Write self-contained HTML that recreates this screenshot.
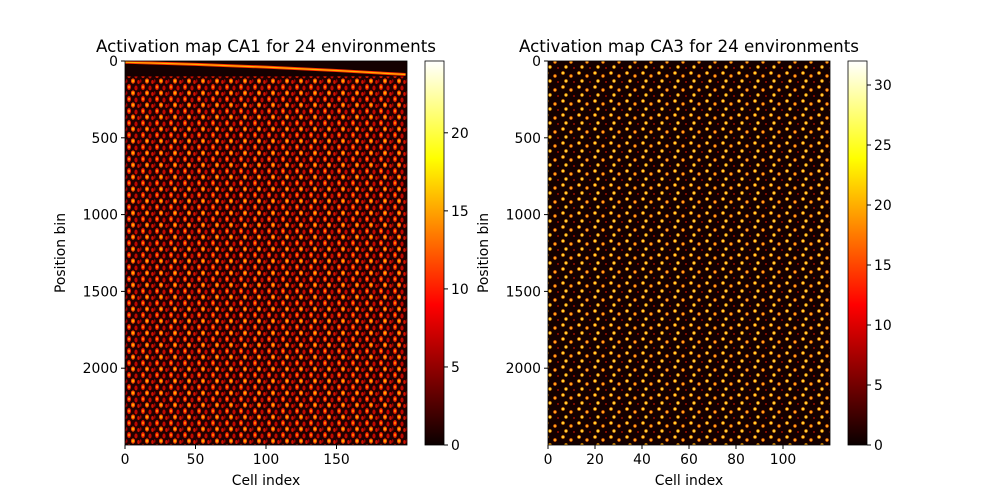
<!DOCTYPE html>
<html><head><meta charset="utf-8"><style>
body{margin:0;background:#fff;}
svg{display:block;font-family:"DejaVu Sans","Liberation Sans",sans-serif;}
</style></head><body>
<svg id="c" width="1000" height="500" viewBox="0 0 1000 500">
<defs>
<linearGradient id="hot" x1="0" y1="1" x2="0" y2="0">
<stop offset="0" stop-color="#0a0000"/><stop offset="0.365" stop-color="#ff0000"/><stop offset="0.746" stop-color="#ffff00"/><stop offset="1" stop-color="#ffffff"/>
</linearGradient>
<pattern id="p1" width="14" height="12" patternUnits="userSpaceOnUse">
<rect width="14" height="12" fill="#220000"/>
<ellipse cx="3" cy="3" rx="2" ry="3" fill="#e81800"/>
<ellipse cx="3" cy="3" rx="1" ry="1.5" fill="#ff8000"/>
<ellipse cx="10" cy="4" rx="1.6" ry="2.5" fill="#c00800"/>
<ellipse cx="7" cy="9" rx="2" ry="2.6" fill="#ff5000"/>
<ellipse cx="7" cy="9" rx="1" ry="1.2" fill="#ffb000"/>
<ellipse cx="12.5" cy="10" rx="1.3" ry="2" fill="#d01000"/>
<ellipse cx="0.5" cy="9" rx="1" ry="1.8" fill="#a00000"/>
</pattern>
<pattern id="p3" width="16" height="14" patternUnits="userSpaceOnUse">
<rect width="16" height="14" fill="#140000"/>
<circle cx="3" cy="3" r="1.8" fill="#ff9000"/>
<circle cx="3" cy="3" r="0.9" fill="#ffff60"/>
<circle cx="11" cy="6" r="1.7" fill="#ff7000"/>
<circle cx="11" cy="6" r="0.8" fill="#ffe040"/>
<circle cx="6" cy="11" r="1.7" fill="#ffa000"/>
<circle cx="6" cy="11" r="0.8" fill="#ffff80"/>
<circle cx="14" cy="12" r="1" fill="#a01000"/>
</pattern>
</defs>
</svg>
<script>
const NS="http://www.w3.org/2000/svg";
const svg=document.getElementById('c');
const ca1XTicks=[0,50,100,150];
const ca3XTicks=[0,20,40,60,80,100];
const yTicks=[0,500,1000,1500,2000];
const ca1CbTicks=[0,5,10,15,20];
const ca3CbTicks=[0,5,10,15,20,25,30];
const ca1Cells=200, ca3Cells=120, nBins=2500;
const ca1CbMax=24.6, ca3CbMax=32;
const ca1QuietBins=100;
const ridgeCells=[0,50,100,150,199];
const ridgeBins=[8,22,40,62,88];
function el(tag,attrs,parent){const e=document.createElementNS(NS,tag);for(const k in attrs)e.setAttribute(k,attrs[k]);(parent||svg).appendChild(e);return e;}
function txt(x,y,s,anchor,size,name){const t=el('text',{x:x,y:y,'text-anchor':anchor,'font-size':size,fill:'#000'});t.textContent=s;

return t;}
function panel(o){
 const L=o.x0,R=o.x1,T=61,B=445;
 const sx=v=>L+v/o.cells*(R-L), sy=v=>T+v/nBins*(B-T);
 const g=el('g',{});
 
 
 el('rect',{x:L,y:T,width:R-L,height:B-T,fill:'url(#'+o.pat+')'},g);
 if(o.quiet){el('rect',{x:L,y:T,width:R-L,height:sy(o.quiet)-T,fill:'#140000'},g);
  let d='';ridgeCells.forEach((c,i)=>{d+=(i?'L':'M')+sx(c)+','+sy(ridgeBins[i]);});
  const r1=el('path',{d:d,stroke:'#ff3000','stroke-width':3,fill:'none'},g);
  
  
  el('path',{d:d,stroke:'#ffb000','stroke-width':1.2,fill:'none'},g);}
 el('rect',{x:L,y:T,width:R-L,height:B-T,fill:'none',stroke:'#000','stroke-width':0.8},g);
 o.xt.forEach(v=>{el('line',{x1:sx(v),x2:sx(v),y1:B,y2:B+4,stroke:'#000'});txt(sx(v),B+19,String(v),'middle',13.9,o.name+'-x-tick');});
 yTicks.forEach(v=>{el('line',{x1:L-4,x2:L,y1:sy(v),y2:sy(v),stroke:'#000'});txt(L-7,sy(v)+5,String(v),'end',13.9,o.name+'-y-tick');});
 txt((L+R)/2,485,'Cell index','middle',13.9,o.name+'-x-axis-title');
 const yl=txt(0,0,'Position bin','middle',13.9,o.name+'-y-axis-title');yl.setAttribute('transform','translate('+(L-60)+','+(T+B)/2+') rotate(-90)');
 txt((L+R)/2,52,o.title,'middle',16.7,o.name+'-title');
 const cx=o.cb, cw=19;
 const cb=el('rect',{x:cx,y:T,width:cw,height:B-T,fill:'url(#hot)',stroke:'#000','stroke-width':0.8});
 
 
 o.ct.forEach(v=>{const y=B-v/o.cmax*(B-T);el('line',{x1:cx+cw,x2:cx+cw+4,y1:y,y2:y,stroke:'#000'});txt(cx+cw+7,y+5,String(v),'start',13.9,o.name+'-colorbar-tick');});
}
panel({name:'ca1',x0:125,x1:407,cells:ca1Cells,pat:'p1',quiet:ca1QuietBins,xt:ca1XTicks,title:'Activation map CA1 for 24 environments',cb:425,ct:ca1CbTicks,cmax:ca1CbMax});
panel({name:'ca3',x0:548,x1:830,cells:ca3Cells,pat:'p3',quiet:0,xt:ca3XTicks,title:'Activation map CA3 for 24 environments',cb:848,ct:ca3CbTicks,cmax:ca3CbMax});
</script>
</body></html>
